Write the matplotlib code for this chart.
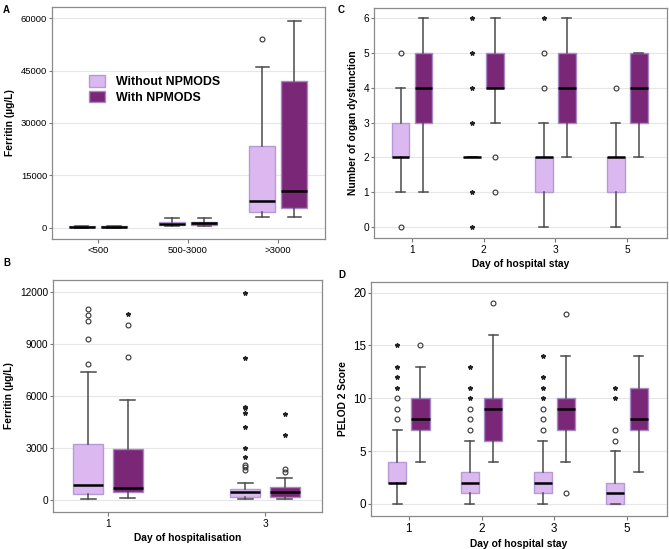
import numpy as np
import matplotlib
matplotlib.use("Agg")
import matplotlib.pyplot as plt
from matplotlib.patches import Patch

plt.rcParams['font.family'] = ['Liberation Sans', 'DejaVu Sans']

light = '#dbb8f0'
light_edge = '#b49ad6'
dark = '#7b2777'
dark_edge = '#a58ac6'

# ---- Panel A: ferritin category (q1, med, q3, whislo, whishi)
a_cats = ['<500', '500-3000', '>3000']
a_without = [(100, 200, 350, 50, 450), (800, 1100, 1700, 600, 2900), (4400, 7700, 23400, 3200, 46000)]
a_with = [(100, 200, 350, 50, 450), (700, 1300, 1700, 550, 2900), (5700, 10400, 42100, 3200, 59300)]
a_without_circ = [[], [], [54000]]
a_with_circ = [[], [], []]
a_without_star = [[], [], []]
a_with_star = [[], [], []]

# ---- Panel B: ferritin by day of hospitalisation
b_cats = ['1', '3']
b_without = [(370, 870, 3240, 40, 7400), (190, 440, 660, 40, 1000)]
b_with = [(440, 710, 2930, 100, 5780), (190, 460, 730, 40, 1250)]
b_without_circ = [[7860, 9300, 10360, 10670, 11040], [1730, 1890, 2020]]
b_with_circ = [[8240, 10090], [1640, 1770]]
b_without_star = [[], [2470, 3020, 4240, 5010, 5300, 5390, 8220, 11980]]
b_with_star = [[10730], [3780, 4950]]

# ---- Panel C: number of organ dysfunction
c_cats = ['1', '2', '3', '5']
c_without = [(2, 2, 3, 1, 4), (2, 2, 2, 2, 2), (1, 2, 2, 0, 3), (1, 2, 2, 0, 3)]
c_with = [(3, 4, 5, 1, 6), (4, 4, 5, 3, 6), (3, 4, 5, 2, 6), (3, 4, 5, 2, 5)]
c_without_circ = [[0, 5], [], [4, 5], [4]]
c_with_circ = [[], [1, 2], [], []]
c_without_star = [[], [0, 1, 3, 4, 5, 6], [6], []]
c_with_star = [[], [], [], []]

# ---- Panel D: PELOD 2 score
d_cats = ['1', '2', '3', '5']
d_without = [(2, 2, 4, 0, 7), (1, 2, 3, 0, 6), (1, 2, 3, 0, 6), (0, 1, 2, 0, 5)]
d_with = [(7, 8, 10, 4, 13), (6, 9, 10, 4, 16), (7, 9, 10, 4, 14), (7, 8, 11, 3, 14)]
d_without_circ = [[8, 9, 10], [7, 8, 9], [7, 8, 9], [6, 7]]
d_with_circ = [[15], [19], [1, 18], []]
d_without_star = [[11, 12, 13, 15], [10, 11, 13], [10, 11, 12, 14], [10, 11]]
d_with_star = [[], [], [], []]


def stats(rows, circ):
    out = []
    for (q1, med, q3, lo, hi), f in zip(rows, circ):
        out.append(dict(q1=q1, med=med, q3=q3, whislo=lo, whishi=hi, fliers=f))
    return out


def panel(ax, cats, wo, wi, wo_c, wi_c, wo_s, wi_s, off, width, xlim, ylim, yticks,
          xlabel, ylabel, tsize):
    pos = np.arange(len(cats))
    for rows, circ, stars, sign, fc, ec in [(wo, wo_c, wo_s, -1, light, light_edge),
                                            (wi, wi_c, wi_s, 1, dark, dark_edge)]:
        p = pos + sign * off
        ax.bxp(stats(rows, circ), positions=p, widths=width, patch_artist=True,
               boxprops=dict(facecolor=fc, edgecolor=ec, linewidth=1.0),
               medianprops=dict(color='black', linewidth=1.8),
               whiskerprops=dict(color='#4a4a4a', linewidth=1.1),
               capprops=dict(color='#4a4a4a', linewidth=1.1),
               capwidths=width * 0.5,
               flierprops=dict(marker='o', markersize=3.5, markerfacecolor='none',
                               markeredgecolor='#333333', markeredgewidth=0.8),
               manage_ticks=False, zorder=3)
        for x, s in zip(p, stars):
            ax.plot([x] * len(s), s, linestyle='none', marker='*', markersize=3.2,
                    color='#222222', zorder=4)
    ax.set_xticks(pos)
    ax.set_xticklabels(cats)
    ax.set_xlim(*xlim)
    ax.set_ylim(*ylim)
    ax.set_yticks(yticks)
    ax.yaxis.grid(True, color='#e6e6e6', linewidth=0.8, zorder=0)
    ax.set_axisbelow(True)
    ax.tick_params(axis='y', length=2.5, width=0.8, color='#777777', labelsize=tsize, pad=1)
    ax.tick_params(axis='x', length=3, width=0.8, color='#777777', labelsize=tsize, pad=2)
    for s in ax.spines.values():
        s.set_color('#8a8a8a')
        s.set_linewidth(0.9)
    if xlabel:
        ax.set_xlabel(xlabel, fontsize=7.4, fontweight='bold', labelpad=3)
    ax.set_ylabel(ylabel, fontsize=7.4, fontweight='bold', labelpad=4)


W, H = 669, 549
fig = plt.figure(figsize=(W / 100, H / 100), dpi=100)


def axes_px(l, t, r, b):
    return fig.add_axes([l / W, 1 - b / H, (r - l) / W, (b - t) / H])


axA = axes_px(52, 7, 325, 239)
panel(axA, a_cats, a_without, a_with, a_without_circ, a_with_circ, a_without_star, a_with_star,
      0.178, 0.29, (-0.51, 2.52), (-3240, 63240), [0, 15000, 30000, 45000, 60000],
      None, 'Ferritin (µg/L)', 6.8)
axA.legend(handles=[Patch(facecolor=light, edgecolor=light_edge, label='Without NPMODS'),
                    Patch(facecolor=dark, edgecolor=dark_edge, label='With NPMODS')],
           loc='upper left', bbox_to_anchor=(0.095, 0.755), frameon=False,
           prop=dict(size=8.9, weight='bold'), handlelength=1.3, handleheight=1.1,
           handletextpad=0.9, labelspacing=0.2)

axB = axes_px(53, 280, 322, 512)
panel(axB, b_cats, b_without, b_with, b_without_circ, b_with_circ, b_without_star, b_with_star,
      0.125, 0.19, (-0.35, 1.363), (-693, 12711), [0, 3000, 6000, 9000, 12000],
      'Day of hospitalisation', 'Ferritin (µg/L)', 7.3)

axC = axes_px(374, 8, 667, 238)
panel(axC, c_cats, c_without, c_with, c_without_circ, c_with_circ, c_without_star, c_with_star,
      0.16, 0.25, (-0.53, 3.556), (-0.316, 6.3), [0, 1, 2, 3, 4, 5, 6],
      'Day of hospital stay', 'Number of organ dysfunction', 7.3)

axD = axes_px(371, 282, 667, 516)
panel(axD, d_cats, d_without, d_with, d_without_circ, d_with_circ, d_without_star, d_with_star,
      0.16, 0.25, (-0.52, 3.55), (-1.14, 21.01), [0, 5, 10, 15, 20],
      'Day of hospital stay', 'PELOD 2 Score', 8.4)

for lab, x, y in [('A', 3, 5), ('B', 3, 258), ('C', 338, 5), ('D', 338, 270)]:
    fig.text(x / W, 1 - y / H, lab, fontsize=7, fontweight='bold', va='top', ha='left')

fig.savefig('out.png', dpi=100)
